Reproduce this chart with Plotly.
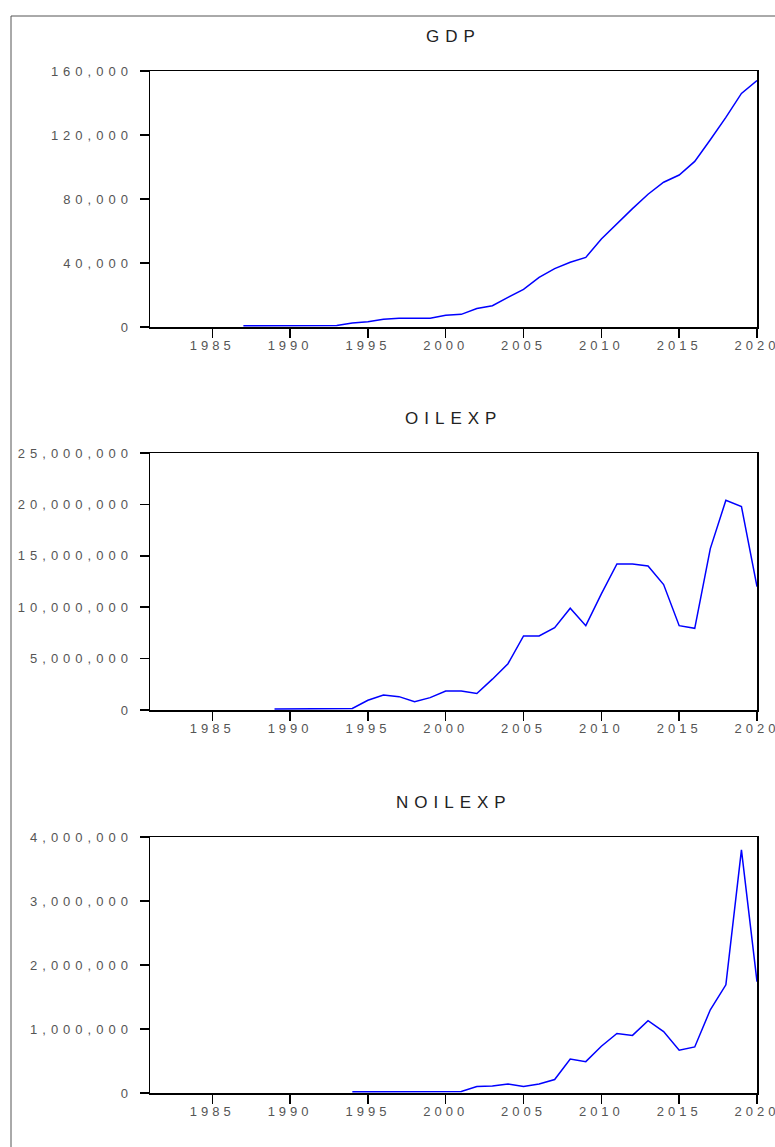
import plotly.graph_objects as go
from plotly.subplots import make_subplots

# ---------------- data ----------------
gdp_years = list(range(1987, 2021))
gdp = [800, 800, 800, 800, 850, 900, 1000, 2500, 3300, 4800, 5400, 5400, 5500,
       7300, 7900, 11500, 13300, 18500, 23500, 31000, 36500, 40500, 43500,
       55000, 64800, 74000, 83000, 90500, 95000, 103500, 117000, 131000,
       146000, 154000]

oil_years = list(range(1989, 2021))
oilexp = [100000, 100000, 100000, 100000, 100000, 150000, 950000, 1450000,
          1300000, 800000, 1200000, 1850000, 1850000, 1600000, 3000000,
          4500000, 7200000, 7200000, 8000000, 9900000, 8200000, 11300000,
          14200000, 14200000, 14000000, 12200000, 8200000, 7950000, 15700000,
          20400000, 19800000, 12000000]

noil_years = list(range(1994, 2021))
noilexp = [20000, 20000, 20000, 20000, 20000, 20000, 20000, 25000, 100000,
           110000, 140000, 100000, 140000, 210000, 530000, 490000, 730000,
           930000, 900000, 1130000, 960000, 670000, 720000, 1300000, 1690000,
           3800000, 1740000]

titles = ["GDP", "OILEXP", "NOILEXP"]
x_ticks = [1985, 1990, 1995, 2000, 2005, 2010, 2015, 2020]
y_ticks = [
    [0, 40000, 80000, 120000, 160000],
    [0, 5000000, 10000000, 15000000, 20000000, 25000000],
    [0, 1000000, 2000000, 3000000, 4000000],
]
y_ranges = [[0, 160000], [0, 25000000], [0, 4000000]]
x_range = [1981, 2020]

# ---------------- layout geometry (pixels) ----------------
W, H = 775, 1147
L, R = 150, 757
panels_px = [(71, 327), (453, 710), (837, 1093)]  # (top, bottom)
T, B = panels_px[0][0], panels_px[-1][1]
ph = B - T


def ydom(top, bottom):
    return [(B - bottom) / ph, (B - top) / ph]


fig = make_subplots(rows=3, cols=1)

series = [(gdp_years, gdp), (oil_years, oilexp), (noil_years, noilexp)]
for i, (xs, ys) in enumerate(series):
    fig.add_trace(
        go.Scatter(x=xs, y=ys, mode="lines",
                   line=dict(color="#0000ff", width=1.5),
                   showlegend=False, hoverinfo="skip"),
        row=i + 1, col=1,
    )

tick_font = dict(family="Liberation Sans, Arial, sans-serif", size=13, color="#555555")
axis_common = dict(showline=True, linecolor="black", linewidth=1.5, mirror=True,
                   showgrid=False, zeroline=False, ticks="outside", ticklen=9,
                   tickwidth=1.5, tickcolor="black", tickfont=tick_font,
                   automargin=False)

for i in range(3):
    top, bottom = panels_px[i]
    xa = "xaxis" if i == 0 else f"xaxis{i + 1}"
    ya = "yaxis" if i == 0 else f"yaxis{i + 1}"
    fig.layout[xa].update(range=x_range, tickvals=x_ticks,
                          ticktext=[str(v) for v in x_ticks],
                          domain=[0, 1], ticklabelstandoff=-3, **axis_common)
    fig.layout[ya].update(range=y_ranges[i], tickvals=y_ticks[i],
                          ticktext=[f"{v:,}" for v in y_ticks[i]],
                          domain=ydom(top, bottom), ticklabelstandoff=4,
                          **axis_common)
    # panel title
    fig.add_annotation(
        text=titles[i], xref="paper", yref="paper",
        x=0.5, y=(B - (top - 35)) / ph, xanchor="center", yanchor="middle",
        showarrow=False,
        font=dict(family="Liberation Sans, Arial, sans-serif", size=17, color="#222222"),
    )

# outer frame (left and top edges visible)
fig.add_shape(type="rect", xref="paper", yref="paper",
              x0=(11 - L) / (R - L), x1=(800 - L) / (R - L),
              y0=(B - 1180) / ph, y1=(B - 16) / ph,
              line=dict(color="#555555", width=1), fillcolor="rgba(0,0,0,0)",
              layer="below")

fig.update_layout(
    width=W, height=H,
    margin=dict(l=L, r=W - R, t=T, b=H - B, pad=0, autoexpand=False),
    paper_bgcolor="white", plot_bgcolor="white",
)

post = """
var s = document.createElement('style');
s.textContent = 'html, body {margin: 0; padding: 0; overflow: hidden;} '
  + '.xaxislayer-above text {letter-spacing: 4px;} '
  + '.yaxislayer-above text {letter-spacing: 5px;} '
  + '.annotation-text {letter-spacing: 6px;}';
document.head.appendChild(s);
"""

fig.write_html("out.html", post_script=post,
               config={"displayModeBar": False, "staticPlot": True})
